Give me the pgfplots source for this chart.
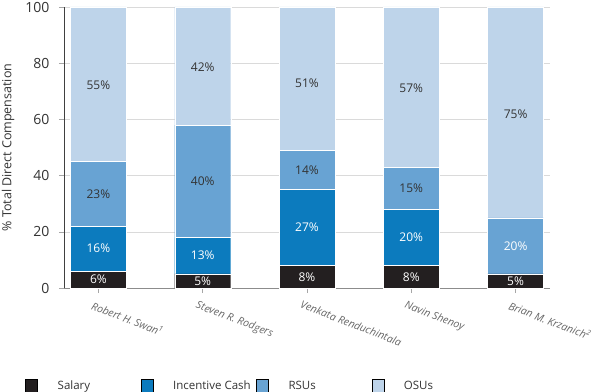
\documentclass[border=0pt]{standalone}
\usepackage{pgfplots}
\pgfplotsset{compat=1.18}
\usepackage{pgfplotstable}
\usepackage{fontspec}
\setmainfont{Open Sans}
\definecolor{csal}{HTML}{231F20}
\definecolor{cinc}{HTML}{0C7BBE}
\definecolor{crsu}{HTML}{68A3D3}
\definecolor{cosu}{HTML}{BED4EA}
\definecolor{ctext}{HTML}{333333}
\definecolor{cgrid}{HTML}{DADADA}
\pgfplotstableread{
x sal inc rsu osu
0 6 16 23 55
1 5 13 40 42
2 8 27 14 51
3 8 20 15 57
4 5 0 20 75
}\comp
\pgfplotsset{
  wlab/.style={draw=none, mark=none, nodes near coords={\fontsize{12bp}{14bp}\selectfont\color{white}\pgfplotspointmeta\%}},
  dlab/.style={draw=none, mark=none, nodes near coords={\fontsize{12bp}{14bp}\selectfont\color{ctext}\pgfplotspointmeta\%}},
}
\begin{document}
\begin{tikzpicture}
\useasboundingbox (-64bp,-104bp) rectangle (531bp,288bp);
\begin{axis}[
  at={(0,0)}, anchor=south west,
  scale only axis, width=486bp, height=281bp,
  ybar stacked, bar width=56bp,
  xmin=-0.33, xmax=4.33, ymin=0, ymax=100,
  xtick={0,1,2,3,4},
  xticklabels={Robert H. Swan\textsuperscript{1}, Steven R. Rodgers, Venkata Renduchintala, Navin Shenoy, Brian M. Krzanich\textsuperscript{2}},
  ytick={0,20,40,60,80,100},
  axis x line*=bottom, axis y line*=left,
  x axis line style={draw=black!45, line width=0.8bp, -},
  y axis line style={draw=black!75, line width=0.8bp, -},
  tick align=outside, major tick length=5bp,
  tick style={draw=black!35, line width=0.6bp},
  ymajorgrids, grid style={draw=cgrid, line width=0.6bp},
  /pgf/number format/assume math mode=true,
  yticklabel style={font=\fontsize{14bp}{16bp}\selectfont, text=ctext, xshift=-6bp},
  xticklabel style={font=\fontsize{10.5bp}{12bp}\selectfont\itshape, text=black!60, rotate=-21, anchor=north west, xshift=-5bp, yshift=-5bp},
  ylabel={\% Total Direct Compensation},
  ylabel style={at={(axis description cs:-0.115,0.5)}, anchor=center, font=\fontsize{12.5bp}{14bp}\selectfont, text=ctext},
  legend columns=4,
  legend style={at={(axis description cs:-0.080,-0.35)}, anchor=west, draw=none, fill=none, inner sep=0pt, /tikz/column sep=0pt, nodes={inner sep=0pt}, font=\fontsize{11.5bp}{13bp}\selectfont, text=ctext},
  legend image code/.code={\fill[#1] (0bp,-7bp) rectangle (12bp,7bp); \path (32bp,0bp);},
]
\addplot[forget plot, fill=csal, draw=white, line width=0.4bp] table[x=x, y=sal] {\comp};
\addplot[forget plot, fill=cinc, draw=white, line width=0.4bp] table[x=x, y=inc] {\comp};
\addplot[forget plot, fill=crsu, draw=white, line width=0.4bp] table[x=x, y=rsu] {\comp};
\addplot[forget plot, fill=cosu, draw=white, line width=0.4bp] table[x=x, y=osu] {\comp};
\addlegendimage{fill=csal}
\addlegendentry{\makebox[83bp][l]{Salary}}
\addlegendimage{fill=cinc}
\addlegendentry{\makebox[83bp][l]{Incentive Cash}}
\addlegendimage{fill=crsu}
\addlegendentry{\makebox[83bp][l]{RSUs}}
\addlegendimage{fill=cosu}
\addlegendentry{\makebox[83bp][l]{OSUs}}
\end{axis}
\begin{axis}[
  at={(0,0)}, anchor=south west,
  scale only axis, width=486bp, height=281bp,
  xmin=-0.33, xmax=4.33, ymin=0, ymax=100,
  hide axis, clip=false,
  point meta=explicit symbolic,
  every node near coord/.append style={anchor=center, inner sep=0pt},
]
\addplot[wlab] coordinates {(0,3) [6] (1,2.5) [5] (2,4) [8] (3,4) [8] (4,2.5) [5]};
\addplot[wlab] coordinates {(0,14) [16] (1,11.5) [13] (2,21.5) [27] (3,18) [20]};
\addplot[dlab] coordinates {(0,33.5) [23] (1,38) [40] (2,42) [14] (3,35.5) [15]};
\addplot[wlab] coordinates {(4,15) [20]};
\addplot[dlab] coordinates {(0,72) [55] (1,78.5) [42] (2,73) [51] (3,71) [57] (4,62) [75]};
\end{axis}
\end{tikzpicture}
\end{document}
